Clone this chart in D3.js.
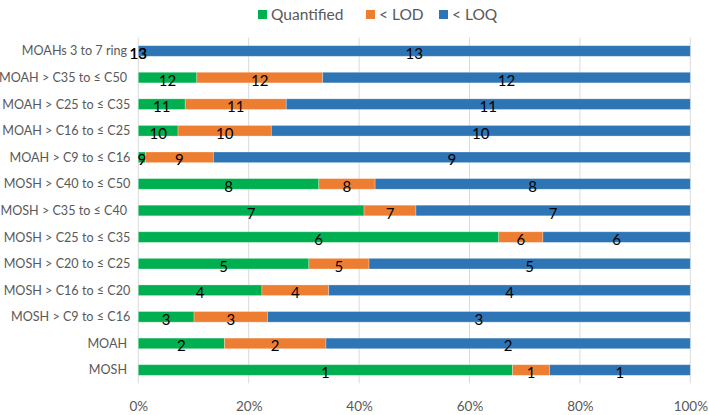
<!DOCTYPE html>
<html><head><meta charset="utf-8">
<script src="https://cdn.jsdelivr.net/npm/d3@7"></script>
<style>body{margin:0;background:#fff}svg{display:block}text{white-space:pre}</style>
</head><body>
<svg id="c" width="709" height="415"></svg>
<script>
const categories = ["MOAHs 3 to 7 ring ","MOAH > C35 to ≤ C50 ","MOAH > C25 to ≤ C35","MOAH > C16 to ≤ C25","MOAH > C9 to ≤ C16","MOSH > C40 to ≤ C50","MOSH > C35 to ≤ C40 ","MOSH > C25 to ≤ C35","MOSH > C20 to ≤ C25","MOSH > C16 to ≤ C20","MOSH > C9 to ≤ C16","MOAH ","MOSH "];
const quantified = [0,10.6,8.5,7.2,1.3,32.7,40.9,65.3,30.9,22.4,10.1,15.6,67.8];
const belowLOD   = [0,22.8,18.3,16.9,12.3,10.2,9.4,8.0,10.9,12.1,13.3,18.4,6.7];
const belowLOQ   = quantified.map((q,i)=>+(100-q-belowLOD[i]).toFixed(1));
const labels     = [13,12,11,10,9,8,7,6,5,4,3,2,1];
const seriesNames = ["Quantified","< LOD","< LOQ"];
const colors = ["#00B050","#ED7D31","#2E75B6"];
const xTicks = [0,20,40,60,80,100];

const W=709,H=415, m={l:138.3,r:18.7,t:37.7,b:31.7};
const svg=d3.select("#c");
const x=d3.scaleLinear().domain([0,100]).range([m.l,W-m.r]);
const y=d3.scaleBand().domain(categories).range([m.t,H-m.b]).paddingInner(0.6).paddingOuter(0.3);

const font="Lato, 'Liberation Sans', Arial, sans-serif";
// grid
svg.append("g").selectAll("line").data(xTicks).join("line")
  .attr("x1",d=>x(d)).attr("x2",d=>x(d)).attr("y1",m.t).attr("y2",H-m.b)
  .attr("stroke","#D9D9D9").attr("stroke-width",1);

const rows = categories.map((c,i)=>({c,vals:[quantified[i],belowLOD[i],belowLOQ[i]],lab:labels[i]}));
const stack = d3.stack().keys([0,1,2]).value((d,k)=>d.vals[k])(rows);

const g=svg.append("g");
stack.forEach((s,k)=>{
  g.append("g").selectAll("rect").data(s).join("rect")
    .attr("x",d=>x(d[0])).attr("width",d=>x(d[1])-x(d[0]))
    .attr("y",d=>y(d.data.c)).attr("height",y.bandwidth())
    .attr("fill",colors[k]).attr("stroke","rgba(255,255,255,0.35)").attr("stroke-width",0.8);
});
stack.forEach((s,k)=>{
  g.append("g").selectAll("text").data(s).join("text")
    .attr("x",d=>x((d[0]+d[1])/2)).attr("y",d=>y(d.data.c)+y.bandwidth()/2+8)
    .attr("text-anchor","middle").attr("font-family",font).attr("font-size",15).attr("fill","#000")
    .text(d=>d.data.lab);
});

// y axis labels
const yAxis=d3.axisLeft(y).tickSize(0).tickPadding(8);
const ya=svg.append("g").attr("transform",`translate(${m.l},0)`).call(yAxis);
ya.select(".domain").remove();
ya.selectAll("text").attr("font-family",font).attr("font-size",12.6).attr("fill","#595959").attr("dy","0.35em");

// x axis
const xAxis=d3.axisBottom(x).tickValues(xTicks).tickFormat(d=>d+"%").tickSize(0).tickPadding(18);
const xa=svg.append("g").attr("transform",`translate(0,${H-m.b})`).call(xAxis);
xa.select(".domain").remove();
xa.selectAll("text").attr("font-family",font).attr("font-size",13.5).attr("fill","#595959");

// legend
const legX=[258,366,439];
const lg=svg.append("g");
seriesNames.forEach((n,i)=>{
  lg.append("rect").attr("x",legX[i]).attr("y",10).attr("width",9).attr("height",9).attr("fill",colors[i]);
  lg.append("text").attr("x",legX[i]+13).attr("y",19.5).attr("font-family",font).attr("font-size",15.5).attr("fill","#595959").text(n);
});
</script>
</body></html>
